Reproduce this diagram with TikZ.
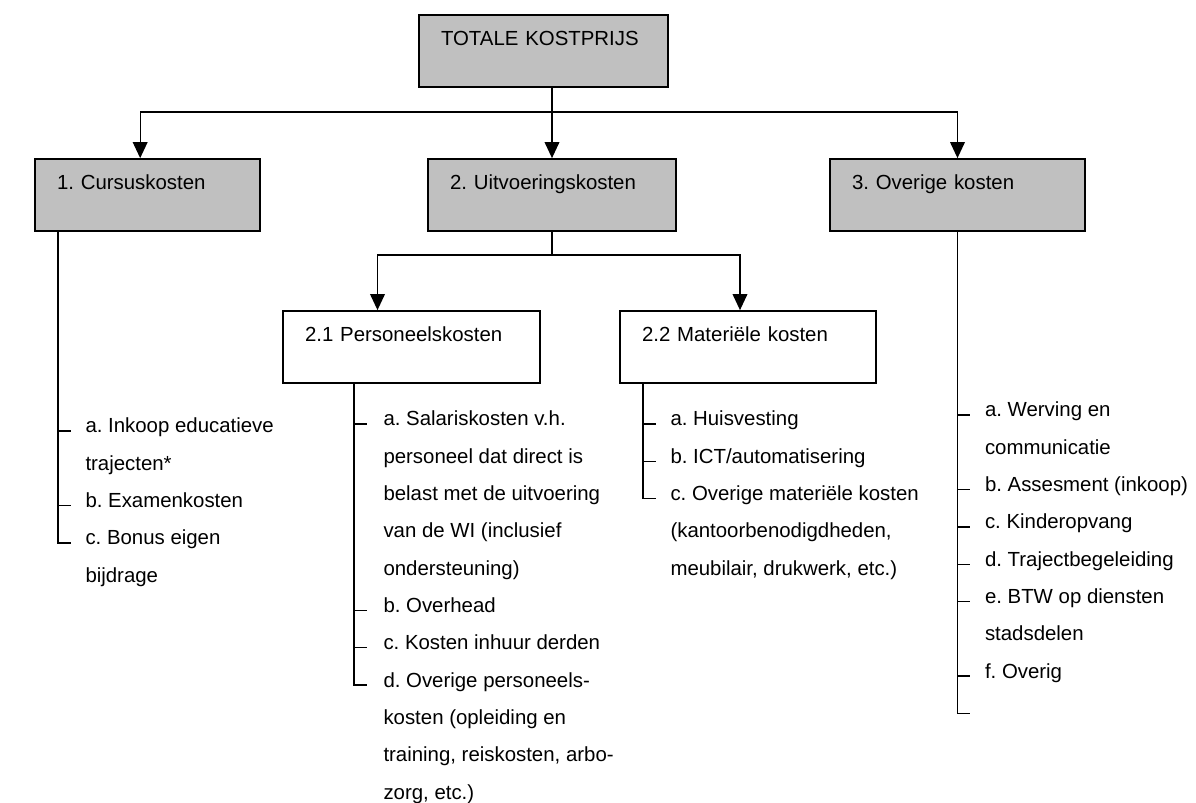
\documentclass[tikz,border=0pt]{standalone}
\usepackage{fontspec}
\setmainfont{Liberation Sans}
\usetikzlibrary{arrows.meta}

\definecolor{kastgrijs}{RGB}{192,192,192}
\newcommand{\kastfont}{\frenchspacing\fontsize{15.3pt}{28pt}\selectfont}

\tikzset{every picture/.style={line width=0.75pt}}
\tikzset{
  kast/.style={draw, line width=1.3pt, rectangle, inner xsep=16.5pt, inner ysep=0pt,
    text height=22.5pt, text depth=31.5pt, align=left, font=\kastfont},
  grijzekast/.style={kast, fill=kastgrijs},
  wittekast/.style={kast, fill=white},
  lijst/.style={anchor=base west, inner sep=0pt, align=left, font=\kastfont},
  lijn/.style={line width=1pt},
  pijl/.style={line width=1pt, -{Triangle[length=12pt,width=11pt]}}
}

\begin{document}
\begin{tikzpicture}[x=0.75pt,y=0.75pt,yscale=-1,xscale=1]
		\useasboundingbox (0,0) rectangle (1196,803);
		
		%Shape: Rectangle [totaal]
		\node[grijzekast, text width=153.75pt] (totaal) at (543.5,51) {TOTALE KOSTPRIJS};
		%Shape: Rectangle [hoofdposten]
		\node[grijzekast, text width=135.75pt] (cursus) at (147.5,195) {1. Cursuskosten};
		\node[grijzekast, text width=153pt] (uitvoering) at (552,195) {2. Uitvoeringskosten};
		\node[grijzekast, text width=158.25pt] (overig) at (957.5,195) {3. Overige kosten};
		%Shape: Rectangle [subposten]
		\node[wittekast, text width=159.75pt] (personeel) at (411.5,347) {2.1 Personeelskosten};
		\node[wittekast, text width=159pt] (materieel) at (748,347) {2.2 Materiële kosten};
		
		\draw[pijl] (totaal.south -| uitvoering.north) -- (uitvoering.north);
		\draw[pijl] (totaal.south -| uitvoering.north) ++(0,24) -| ([xshift=-5.5pt]cursus.north);
		\draw[pijl] (totaal.south -| uitvoering.north) ++(0,24) -| (overig.north);
		\draw[pijl] (uitvoering.south) -- ++(0,23) -| ([xshift=-25.5pt]personeel.north);
		\draw[pijl] (uitvoering.south) ++(0,23) -| ([xshift=-6pt]materieel.north);
		
		%Lists (base = last line)
		\node[lijst] (lcursus) at (85,582.2) {a. Inkoop educatieve\\trajecten*\\b. Examenkosten\\c. Bonus eigen\\bijdrage};
		\node[lijst] (lpersoneel) at (383,799) {a. Salariskosten v.h.\\personeel dat direct is\\belast met de uitvoering\\van de WI (inclusief\\ondersteuning)\\b. Overhead\\c. Kosten inhuur derden\\d. Overige personeels-\\kosten (opleiding en\\training, reiskosten, arbo-\\zorg, etc.)};
		\node[lijst] (lmaterieel) at (670,575.2) {a. Huisvesting\\b. ICT/automatisering\\c. Overige materiële kosten\\(kantoorbenodigdheden,\\meubilair, drukwerk, etc.)};
		\node[lijst] (loverig) at (984.5,678.1) {a. Werving en\\communicatie\\b. Assesment (inkoop)\\c. Kinderopvang\\d. Trajectbegeleiding\\e. BTW op diensten\\stadsdelen\\f. Overig};
		
		\draw[lijn] (cursus.south west) ++(24,0) -- ++(0,312);
		\foreach \r in {0,2,3} \draw[lijn] (lcursus.base west) ++(-26,{(\r-4)*37.3-2}) -- ++(12,0);
		\draw[lijn] (personeel.south west) ++(72,0) -- ++(0,302);
		\foreach \r in {0,5,6,7} \draw[lijn] (lpersoneel.base west) ++(-28,{(\r-10)*37.3-2}) -- ++(12,0);
		\draw[lijn] (materieel.south west) ++(24,0) -- ++(0,115.6);
		\foreach \r in {0,1,2} \draw[lijn] (lmaterieel.base west) ++(-26,{(\r-4)*37.3-2}) -- ++(12,0);
		\draw[lijn] (overig.south) -- ++(0,482.4);
		\foreach \r in {0,2,3,4,5,7,8} \draw[lijn] (loverig.base west) ++(-27,{(\r-7)*37.3-2}) -- ++(12,0);
		
	\end{tikzpicture}
\end{document}
